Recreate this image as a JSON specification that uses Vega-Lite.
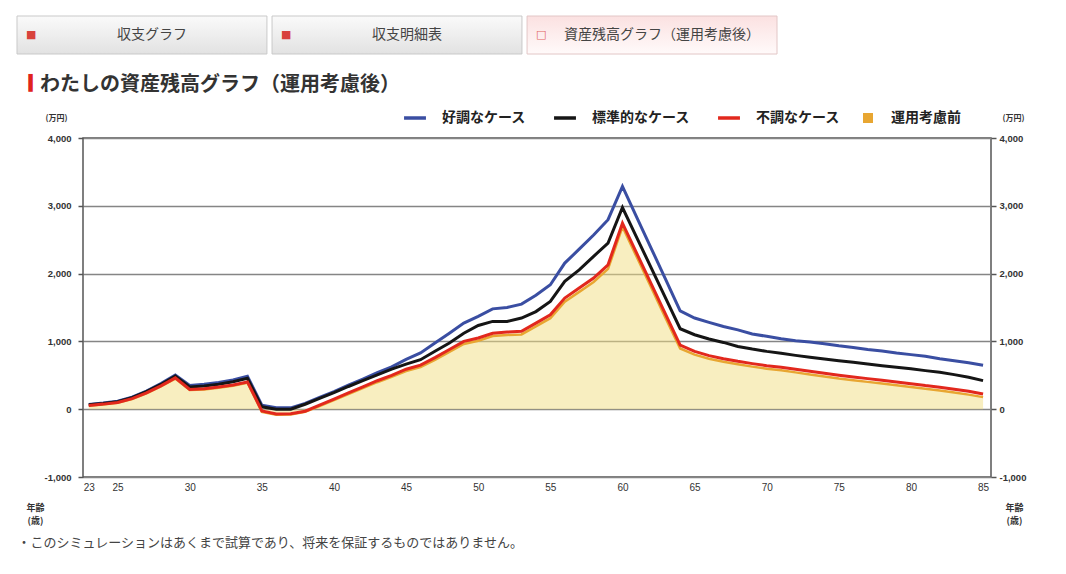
{
  "$schema": "https://vega.github.io/schema/vega-lite/v6.json",
  "padding": {"left": 16, "top": 15, "right": 5, "bottom": 5},
  "background": "white",
  "spacing": 19,
  "config": {"font": "Noto Sans CJK JP"},
  "datasets": {
    "tabs": [
      {"tab": "収支グラフ", "active": false},
      {"tab": "収支明細表", "active": false},
      {"tab": "資産残高グラフ（運用考慮後）", "active": true}
    ],
    "assets": [
      {"age": 23, "好調なケース": 70, "標準的なケース": 65, "不調なケース": 55, "運用考慮前": 50},
      {"age": 24, "好調なケース": 90, "標準的なケース": 85, "不調なケース": 75, "運用考慮前": 70},
      {"age": 25, "好調なケース": 118, "標準的なケース": 110, "不調なケース": 100, "運用考慮前": 95},
      {"age": 26, "好調なケース": 178, "標準的なケース": 170, "不調なケース": 155, "運用考慮前": 150},
      {"age": 27, "好調なケース": 268, "標準的なケース": 258, "不調なケース": 240, "運用考慮前": 232},
      {"age": 28, "好調なケース": 378, "標準的なケース": 365, "不調なケース": 345, "運用考慮前": 336},
      {"age": 29, "好調なケース": 505, "標準的なケース": 488, "不調なケース": 462, "運用考慮前": 452},
      {"age": 30, "好調なケース": 350, "標準的なケース": 328, "不調なケース": 292, "運用考慮前": 282},
      {"age": 31, "好調なケース": 368, "標準的なケース": 343, "不調なケース": 303, "運用考慮前": 292},
      {"age": 32, "好調なケース": 395, "標準的なケース": 368, "不調なケース": 328, "運用考慮前": 316},
      {"age": 33, "好調なケース": 430, "標準的なケース": 405, "不調なケース": 358, "運用考慮前": 346},
      {"age": 34, "好調なケース": 485, "標準的なケース": 455, "不調なケース": 402, "運用考慮前": 390},
      {"age": 35, "好調なケース": 60, "標準的なケース": 35, "不調なケース": -25, "運用考慮前": -38},
      {"age": 36, "好調なケース": 20, "標準的なケース": 0, "不調なケース": -70, "運用考慮前": -80},
      {"age": 37, "好調なケース": 20, "標準的なケース": 0, "不調なケース": -68, "運用考慮前": -78},
      {"age": 38, "好調なケース": 85, "標準的なケース": 73, "不調なケース": -30, "運用考慮前": -40},
      {"age": 39, "好調なケース": 175, "標準的なケース": 160, "不調なケース": 60, "運用考慮前": 45},
      {"age": 40, "好調なケース": 260, "標準的なケース": 244, "不調なケース": 150, "運用考慮前": 135},
      {"age": 41, "好調なケース": 355, "標準的なケース": 335, "不調なケース": 240, "運用考慮前": 222},
      {"age": 42, "好調なケース": 445, "標準的なケース": 420, "不調なケース": 330, "運用考慮前": 310},
      {"age": 43, "好調なケース": 540, "標準的なケース": 505, "不調なケース": 420, "運用考慮前": 398},
      {"age": 44, "好調なケース": 625, "標準的なケース": 590, "不調なケース": 500, "運用考慮前": 476},
      {"age": 45, "好調なケース": 735, "標準的なケース": 665, "不調なケース": 590, "運用考慮前": 562},
      {"age": 46, "好調なケース": 830, "標準的なケース": 730, "不調なケース": 650, "運用考慮前": 620},
      {"age": 47, "好調なケース": 975, "標準的なケース": 855, "不調なケース": 760, "運用考慮前": 728},
      {"age": 48, "好調なケース": 1120, "標準的なケース": 975, "不調なケース": 880, "運用考慮前": 845},
      {"age": 49, "好調なケース": 1270, "標準的なケース": 1120, "不調なケース": 1000, "運用考慮前": 962},
      {"age": 50, "好調なケース": 1370, "標準的なケース": 1235, "不調なケース": 1050, "運用考慮前": 1010},
      {"age": 51, "好調なケース": 1480, "標準的なケース": 1295, "不調なケース": 1120, "運用考慮前": 1080},
      {"age": 52, "好調なケース": 1500, "標準的なケース": 1295, "不調なケース": 1138, "運用考慮前": 1095},
      {"age": 53, "好調なケース": 1550, "標準的なケース": 1345, "不調なケース": 1148, "運用考慮前": 1103},
      {"age": 54, "好調なケース": 1680, "標準的なケース": 1440, "不調なケース": 1270, "運用考慮前": 1222},
      {"age": 55, "好調なケース": 1835, "標準的なケース": 1590, "不調なケース": 1393, "運用考慮前": 1342},
      {"age": 56, "好調なケース": 2155, "標準的なケース": 1885, "不調なケース": 1640, "運用考慮前": 1585},
      {"age": 57, "好調なケース": 2360, "標準的なケース": 2055, "不調なケース": 1786, "運用考慮前": 1730},
      {"age": 58, "好調なケース": 2570, "標準的なケース": 2255, "不調なケース": 1934, "運用考慮前": 1876},
      {"age": 59, "好調なケース": 2795, "標準的なケース": 2450, "不調なケース": 2130, "運用考慮前": 2070},
      {"age": 60, "好調なケース": 3285, "標準的なケース": 2975, "不調なケース": 2744, "運用考慮前": 2690},
      {"age": 61, "好調なケース": 2825, "標準的なケース": 2528, "不調なケース": 2294, "運用考慮前": 2240},
      {"age": 62, "好調なケース": 2370, "標準的なケース": 2081, "不調なケース": 1844, "運用考慮前": 1790},
      {"age": 63, "好調なケース": 1910, "標準的なケース": 1634, "不調なケース": 1395, "運用考慮前": 1340},
      {"age": 64, "好調なケース": 1450, "標準的なケース": 1187, "不調なケース": 945, "運用考慮前": 895},
      {"age": 65, "好調なケース": 1345, "標準的なケース": 1098, "不調なケース": 853, "運用考慮前": 805},
      {"age": 66, "好調なケース": 1280, "標準的なケース": 1035, "不調なケース": 790, "運用考慮前": 745},
      {"age": 67, "好調なケース": 1220, "標準的なケース": 985, "不調なケース": 745, "運用考慮前": 700},
      {"age": 68, "好調なケース": 1170, "標準的なケース": 926, "不調なケース": 706, "運用考慮前": 662},
      {"age": 69, "好調なケース": 1110, "標準的なケース": 887, "不調なケース": 672, "運用考慮前": 628},
      {"age": 70, "好調なケース": 1075, "標準的なケース": 853, "不調なケース": 642, "運用考慮前": 598},
      {"age": 71, "好調なケース": 1040, "標準的なケース": 824, "不調なケース": 618, "運用考慮前": 573},
      {"age": 72, "好調なケース": 1010, "標準的なケース": 794, "不調なケース": 588, "運用考慮前": 543},
      {"age": 73, "好調なケース": 990, "標準的なケース": 765, "不調なケース": 559, "運用考慮前": 513},
      {"age": 74, "好調なケース": 965, "標準的なケース": 740, "不調なケース": 529, "運用考慮前": 483},
      {"age": 75, "好調なケース": 935, "標準的なケース": 716, "不調なケース": 500, "運用考慮前": 453},
      {"age": 76, "好調なケース": 910, "標準的なケース": 691, "不調なケース": 475, "運用考慮前": 428},
      {"age": 77, "好調なケース": 880, "標準的なケース": 667, "不調なケース": 451, "運用考慮前": 403},
      {"age": 78, "好調なケース": 860, "標準的なケース": 642, "不調なケース": 426, "運用考慮前": 378},
      {"age": 79, "好調なケース": 830, "標準的なケース": 618, "不調なケース": 402, "運用考慮前": 354},
      {"age": 80, "好調なケース": 805, "標準的なケース": 598, "不調なケース": 377, "運用考慮前": 328},
      {"age": 81, "好調なケース": 780, "標準的なケース": 569, "不調なケース": 348, "運用考慮前": 300},
      {"age": 82, "好調なケース": 745, "標準的なケース": 544, "不調なケース": 324, "運用考慮前": 275},
      {"age": 83, "好調なケース": 715, "標準的なケース": 510, "不調なケース": 294, "運用考慮前": 245},
      {"age": 84, "好調なケース": 685, "標準的なケース": 471, "不調なケース": 265, "運用考慮前": 215},
      {"age": 85, "好調なケース": 648, "標準的なケース": 422, "不調なケース": 225, "運用考慮前": 178}
    ]
  },
  "vconcat": [
    {
      "width": 694,
      "height": 38,
      "view": {"stroke": null},
      "data": {"name": "tabs"},
      "layer": [
        {
          "transform": [{"filter": "!datum.active"}],
          "mark": {"type": "rect", "fill": {"gradient": "linear", "x1": 0, "y1": 0, "x2": 0, "y2": 1, "stops": [{"offset": 0, "color": "#fafafa"}, {"offset": 1, "color": "#e2e2e2"}]}, "stroke": "#c9c9c9", "strokeWidth": 1},
          "encoding": {"x": {"field": "tab", "type": "nominal", "sort": null, "scale": {"range": [-66, 694], "paddingInner": 0.02, "paddingOuter": 0}, "axis": null}}
        },
        {
          "transform": [{"filter": "datum.active"}],
          "mark": {"type": "rect", "fill": {"gradient": "linear", "x1": 0, "y1": 0, "x2": 0, "y2": 1, "stops": [{"offset": 0, "color": "#fbe1e1"}, {"offset": 1, "color": "#fffafa"}]}, "stroke": "#e2c6c6", "strokeWidth": 1},
          "encoding": {"x": {"field": "tab", "type": "nominal", "sort": null, "axis": null}}
        },
        {
          "mark": {"type": "text", "fontSize": 11, "font": "DejaVu Sans", "align": "left", "baseline": "middle", "dx": 9},
          "encoding": {
            "x": {"field": "tab", "type": "nominal", "sort": null, "bandPosition": 0, "axis": null},
            "text": {"condition": {"test": "datum.active", "value": "□"}, "value": "■"},
            "color": {"condition": {"test": "datum.active", "value": "#e0645f"}, "value": "#d8423c"}
          }
        },
        {
          "mark": {"type": "text", "fontSize": 14, "color": "#444444", "dx": 10, "font": "Noto Sans CJK JP"},
          "encoding": {
            "x": {"field": "tab", "type": "nominal", "sort": null, "axis": null},
            "text": {"field": "tab"}
          }
        }
      ]
    },
    {
      "width": 908,
      "height": 339,
      "view": {"stroke": "#555555", "strokeWidth": 1.5},
      "title": {
        "text": "わたしの資産残高グラフ（運用考慮後）",
        "anchor": "start",
        "frame": "bounds",
        "dx": 23,
        "offset": -20,
        "fontSize": 20,
        "fontWeight": "bold",
        "color": "#333333",
        "font": "Noto Sans CJK JP"
      },
      "data": {"name": "assets"},
      "transform": [{"fold": ["好調なケース", "標準的なケース", "不調なケース", "運用考慮前"], "as": ["series", "value"]}],
      "layer": [
        {
          "transform": [{"filter": "datum.series === '運用考慮前'"}],
          "mark": {"type": "area", "fill": "#f1dd81", "opacity": 0.5},
          "encoding": {
            "x": {
              "field": "age", "type": "quantitative",
              "scale": {"domain": [22.6, 85.55], "nice": false, "zero": false},
              "axis": {
                "orient": "bottom",
                "values": [23, 25, 30, 35, 40, 45, 50, 55, 60, 65, 70, 75, 80, 85],
                "grid": false, "ticks": false, "domain": false,
                "labelFontSize": 10, "labelColor": "#333333", "labelFont": "Liberation Sans", "labelPadding": 5,
                "title": ["年齢", "(歳)"], "titleX": -48, "titleY": 26, "titleAlign": "center", "titleBaseline": "top",
                "titleFontSize": 9, "titleFontWeight": "bold", "titleColor": "#333333", "titleLineHeight": 13
              }
            },
            "y": {
              "field": "value", "type": "quantitative",
              "scale": {"domain": [-1000, 4000], "nice": false},
              "axis": {
                "values": [-1000, 0, 1000, 2000, 3000, 4000],
                "labelExpr": "(datum.value < 0 ? '-' : '') + format(abs(datum.value), ',d')",
                "grid": true, "gridColor": "#858585", "gridWidth": 1.5,
                "domain": false, "ticks": true, "tickSize": 5, "tickColor": "#555555", "tickWidth": 1.5,
                "labelFontSize": 9.5, "labelFontWeight": "bold", "labelColor": "#333333", "labelFont": "Liberation Sans", "labelPadding": 7,
                "title": "(万円)", "titleAngle": 0, "titleX": -27, "titleY": -20, "titleAlign": "center", "titleBaseline": "middle",
                "titleFontSize": 8, "titleFontWeight": "bold", "titleColor": "#333333"
              }
            }
          }
        },
        {
          "transform": [{"filter": "datum.series === '運用考慮前'"}],
          "mark": {"type": "line", "strokeWidth": 2.5},
          "encoding": {
            "x": {
              "field": "age", "type": "quantitative",
              "scale": {"domain": [22.6, 85.55], "nice": false, "zero": false},
              "axis": {
                "orient": "bottom",
                "labels": false, "ticks": false, "domain": false, "grid": false,
                "title": ["年齢", "(歳)"], "titleX": 931, "titleY": 26, "titleAlign": "center", "titleBaseline": "top",
                "titleFontSize": 9, "titleFontWeight": "bold", "titleColor": "#333333", "titleLineHeight": 13
              }
            },
            "y": {
              "field": "value", "type": "quantitative",
              "scale": {"domain": [-1000, 4000], "nice": false},
              "axis": {
                "orient": "right",
                "values": [-1000, 0, 1000, 2000, 3000, 4000],
                "labelExpr": "(datum.value < 0 ? '-' : '') + format(abs(datum.value), ',d')",
                "grid": false, "domain": false, "ticks": true, "tickSize": 5, "tickColor": "#555555", "tickWidth": 1.5,
                "labelFontSize": 9.5, "labelFontWeight": "bold", "labelColor": "#333333", "labelFont": "Liberation Sans", "labelPadding": 3,
                "title": "(万円)", "titleAngle": 0, "titleX": 22, "titleY": -20, "titleAlign": "center", "titleBaseline": "middle",
                "titleFontSize": 8, "titleFontWeight": "bold", "titleColor": "#333333"
              }
            },
            "stroke": {
              "field": "series", "type": "nominal",
              "scale": {"domain": ["好調なケース", "標準的なケース", "不調なケース", "運用考慮前"], "range": ["#3a4ea2", "#151515", "#e2281d", "#e8a631"]},
              "legend": {
                "orient": "none", "legendX": 325, "legendY": 95, "direction": "horizontal", "title": null,
                "symbolType": "stroke", "symbolStrokeWidth": 3.5, "symbolSize": 480,
                "labelFontSize": 14, "labelFontWeight": "bold", "labelColor": "#222222", "labelFont": "Noto Sans CJK JP",
                "labelOffset": 20, "columnPadding": 21, "padding": 0,
                "encode": {
                  "symbols": {
                    "update": {
                      "shape": {"signal": "datum.value === '運用考慮前' ? 'square' : 'stroke'"},
                      "fill": {"signal": "datum.value === '運用考慮前' ? '#e8a631' : 'transparent'"},
                      "size": {"signal": "datum.value === '運用考慮前' ? 100 : 480"},
                      "strokeWidth": {"signal": "datum.value === '運用考慮前' ? 0 : 3.5"}
                    }
                  },
                  "labels": {
                    "update": {
                      "dx": {"signal": "datum.value === '運用考慮前' ? -4 : 0"}
                    }
                  }
                }
              }
            }
          }
        },
        {
          "transform": [{"filter": "datum.series !== '運用考慮前'"}],
          "mark": {"type": "line", "strokeWidth": 3},
          "encoding": {
            "x": {
              "field": "age", "type": "quantitative",
              "scale": {"domain": [22.6, 85.55], "nice": false, "zero": false},
              "axis": {
                "orient": "bottom",
                "labels": false, "ticks": false, "domain": false, "grid": false,
                "title": "・このシミュレーションはあくまで試算であり、将来を保証するものではありません。",
                "titleX": -66, "titleY": 65, "titleAlign": "left", "titleBaseline": "middle",
                "titleFontSize": 13, "titleFontWeight": "normal", "titleColor": "#444444"
              }
            },
            "y": {
              "field": "value", "type": "quantitative",
              "scale": {"domain": [-1000, 4000], "nice": false},
              "axis": {
                "orient": "left",
                "labels": false, "ticks": false, "domain": false, "grid": false,
                "title": "▍", "titleAngle": 0, "titleX": -55, "titleY": -56, "titleAlign": "left", "titleBaseline": "middle",
                "titleFont": "DejaVu Sans", "titleFontSize": 15, "titleFontWeight": "normal", "titleColor": "#e0231c"
              }
            },
            "stroke": {"field": "series", "type": "nominal"}
          }
        }
      ],
      "resolve": {"scale": {"x": "independent", "y": "independent"}, "axis": {"x": "independent", "y": "independent"}}
    }
  ]
}
